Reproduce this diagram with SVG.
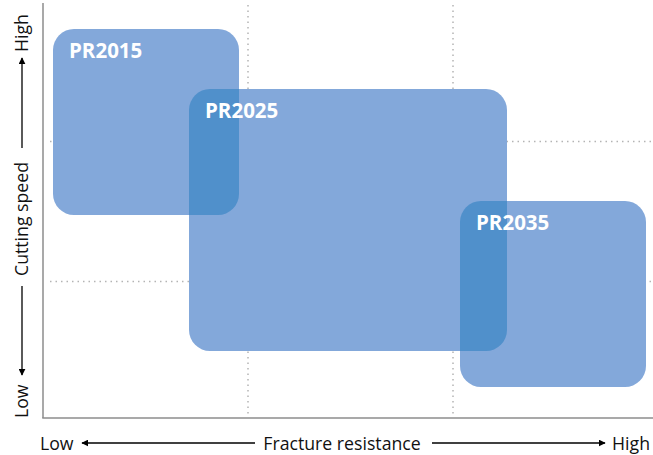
<svg xmlns="http://www.w3.org/2000/svg" width="653" height="455" viewBox="0 0 653 455">
<defs>
<style>
.box{fill:#83a8da}
.ov{fill:#5090cb}
.grid{stroke:#b4b4b4;stroke-width:1.5;stroke-dasharray:1.5 4;fill:none}
.axis{stroke:#8c8c8c;stroke-width:1.5;fill:none}
.arr{stroke:#000;stroke-width:1.3;fill:none}
.lbl{font-family:"Open Sans",sans-serif;font-size:17.7px;fill:#111}
.name{font-family:"Open Sans",sans-serif;font-size:20.5px;font-weight:bold;fill:#fff}
</style>
<marker id="ah" viewBox="0 0 10 10" refX="9" refY="5" markerWidth="7" markerHeight="7" markerUnits="userSpaceOnUse" orient="auto">
<path d="M0,0 L10,5 L0,10 Z" fill="#000"/>
</marker>
</defs>
<rect width="653" height="455" fill="#fff"/>
<g id="grid">
<line class="grid" x1="248" y1="5" x2="248" y2="416"/>
<line class="grid" x1="453" y1="5" x2="453" y2="416"/>
<line class="grid" x1="50" y1="141.5" x2="653" y2="141.5"/>
<line class="grid" x1="50" y1="281.5" x2="653" y2="281.5"/>
</g>
<g id="pr2015"><rect class="box" x="53" y="29" width="186" height="186" rx="21"/></g>
<g id="pr2025"><rect class="box" x="189" y="89" width="318" height="262" rx="21"/></g>
<g id="pr2035"><rect class="box" x="460" y="201" width="186" height="186" rx="21"/></g>
<g id="overlaps">
<path class="ov" d="M189,110 A21,21 0 0 1 210,89 L239,89 L239,194 A21,21 0 0 1 218,215 L189,215 Z"/>
<path class="ov" d="M460,222 A21,21 0 0 1 481,201 L507,201 L507,330 A21,21 0 0 1 486,351 L460,351 Z"/>
</g>
<g id="labels">
<text class="name" x="69" y="58">PR2015</text>
<text class="name" x="205" y="118">PR2025</text>
<text class="name" x="476" y="230">PR2035</text>
</g>
<g id="axes">
<line class="axis" x1="43" y1="3" x2="43" y2="418"/>
<line class="axis" x1="42.25" y1="418" x2="653" y2="418"/>
</g>
<g id="connectors">
<line class="arr" x1="255" y1="443" x2="82" y2="443" marker-end="url(#ah)"/>
<line class="arr" x1="432" y1="443" x2="605" y2="443" marker-end="url(#ah)"/>
<line class="arr" x1="22" y1="148" x2="22" y2="58" marker-end="url(#ah)"/>
<line class="arr" x1="22" y1="286" x2="22" y2="375" marker-end="url(#ah)"/>
</g>
<g id="axis-labels">
<text class="lbl" x="40" y="450">Low</text>
<text class="lbl" x="342" y="450" text-anchor="middle">Fracture resistance</text>
<text class="lbl" x="650" y="450" text-anchor="end">High</text>
<text class="lbl" transform="translate(28,52) rotate(-90)">High</text>
<text class="lbl" transform="translate(28,219) rotate(-90)" text-anchor="middle">Cutting speed</text>
<text class="lbl" transform="translate(28,418) rotate(-90)">Low</text>
</g>
</svg>
